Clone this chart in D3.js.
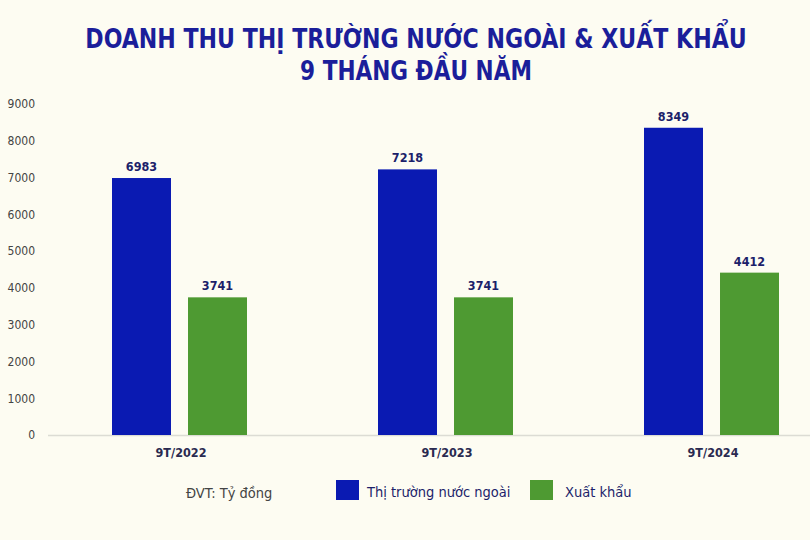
<!DOCTYPE html>
<html><head><meta charset="utf-8">
<script src="https://cdn.jsdelivr.net/npm/d3@7"></script>
<style>
body{margin:0;background:#fdfcf2;}
svg{display:block;}
</style></head>
<body><svg id="c" width="810" height="540"></svg>
<script>
const categories = ["9T/2022", "9T/2023", "9T/2024"];
const seriesNames = ["Thị trường nước ngoài", "Xuất khẩu"];
const foreignMarket = [6983, 7218, 8349];
const exportValues = [3741, 3741, 4412];
const yTicks = [0, 1000, 2000, 3000, 4000, 5000, 6000, 7000, 8000, 9000];
const colors = ["#0a1ab2", "#4e9a32"];
const titleLines = ["DOANH THU THỊ TRƯỜNG NƯỚC NGOÀI & XUẤT KHẨU", "9 THÁNG ĐẦU NĂM"];
const unitLabel = "ĐVT: Tỷ đồng";

const data = categories.map((c, i) => ({cat: c, values: [foreignMarket[i], exportValues[i]]}));
const svg = d3.select("#c");
svg.append("rect").attr("width", 810).attr("height", 540).attr("fill", "#fdfcf2");
const font = "'DejaVu Sans Condensed','Roboto',sans-serif";

const y = d3.scaleLinear().domain([0, 9000]).range([435, 103.8]);
const x0 = d3.scaleBand().domain(categories).range([47, 845]).padding(0);
const x1 = d3.scaleBand().domain([0, 1]).range([65, 200]).paddingInner(0.224).paddingOuter(0);

// title (horizontally condensed to match the reference's narrow face)
const titleWidths = [662, 232];
const titleBase = [48, 80];
svg.selectAll("text.title").data(titleLines).join("text")
  .attr("class", "title")
  .attr("text-anchor", "middle")
  .attr("font-family", font).attr("font-weight", "bold")
  .attr("font-size", 27).attr("fill", "#1b1e9a")
  .text(d => d)
  .each(function(d, i) {
    const w = this.getComputedTextLength();
    const s = Math.min(1, titleWidths[i] / w);
    d3.select(this).attr("transform", `translate(416,${titleBase[i]}) scale(${s},1)`);
  });

// y axis
const yAxis = svg.append("g").attr("transform", "translate(37,0)")
  .call(d3.axisLeft(y).tickValues(yTicks).tickFormat(d3.format("d")).tickSize(0).tickPadding(2));
yAxis.select(".domain").remove();
yAxis.selectAll("text").attr("font-family", font).attr("font-size", 12).attr("fill", "#444");

// baseline
svg.append("line").attr("x1", 48).attr("x2", 810).attr("y1", y(0) + 0.5).attr("y2", y(0) + 0.5)
  .attr("stroke", "#dcdcd4").attr("stroke-width", 1.5);

// bars
const g = svg.selectAll("g.grp").data(data).join("g")
  .attr("class", "grp").attr("transform", d => `translate(${x0(d.cat)},0)`);
g.selectAll("rect").data(d => d.values.map((v, k) => ({k, v}))).join("rect")
  .attr("x", d => x1(d.k)).attr("width", x1.bandwidth())
  .attr("y", d => y(d.v)).attr("height", d => y(0) - y(d.v))
  .attr("fill", d => colors[d.k]);
g.selectAll("text.val").data(d => d.values.map((v, k) => ({k, v}))).join("text")
  .attr("class", "val")
  .attr("x", d => x1(d.k) + x1.bandwidth() / 2).attr("y", d => y(d.v) - 7)
  .attr("text-anchor", "middle").attr("font-family", font).attr("font-weight", "bold")
  .attr("font-size", 12.5).attr("fill", "#1c1f6a").text(d => d.v);

// x axis labels
const xAxis = svg.append("g").attr("transform", `translate(0,${y(0)})`)
  .call(d3.axisBottom(x0).tickSize(0).tickPadding(13));
xAxis.select(".domain").remove();
xAxis.selectAll("text").attr("font-family", font).attr("font-size", 12.5).attr("font-weight", "bold")
  .attr("fill", "#2a2a50").attr("dx", 1);

// legend
svg.append("text").attr("x", 186).attr("y", 498).attr("font-family", font).attr("font-size", 14.5)
  .attr("fill", "#444").text(unitLabel);
const legX = [336, 530];
const lg = svg.selectAll("g.leg").data(seriesNames).join("g").attr("class", "leg")
  .attr("transform", (d, i) => `translate(${legX[i]},480)`);
lg.append("rect").attr("width", 23).attr("height", 20).attr("fill", (d, i) => colors[i]);
lg.append("text").attr("x", (d, i) => i === 0 ? 31 : 35).attr("y", 17)
  .attr("font-family", font).attr("font-size", 14.5).attr("fill", "#1c1f6a").text(d => d);
</script></body></html>
